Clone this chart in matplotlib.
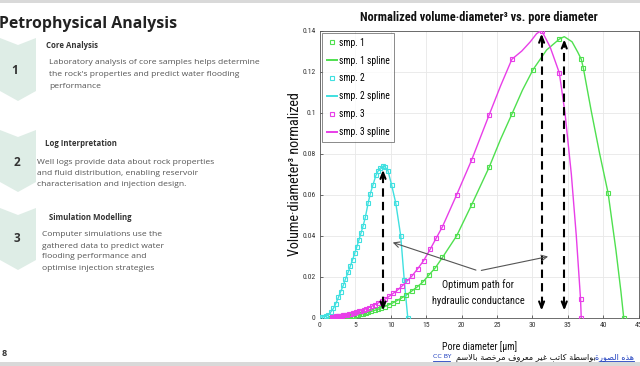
import matplotlib
matplotlib.use("Agg")
import matplotlib.pyplot as plt
from matplotlib import font_manager
from matplotlib.patches import Polygon
from matplotlib.lines import Line2D
import numpy as np

# ---------------- data ----------------
x_ticks = [0, 5, 10, 15, 20, 25, 30, 35, 40, 45]
y_ticks = [0, 0.02, 0.04, 0.06, 0.08, 0.1, 0.12, 0.14]
y_tick_labels = ["0", "0.02", "0.04", "0.06", "0.08", "0.1", "0.12", "0.14"]

# sample 1 (green) measured points
smp1_x = [1.5, 1.6, 1.7, 1.8, 1.9, 2.0, 2.15, 2.25, 2.4, 2.55, 2.7, 2.85, 3.0, 3.2, 3.4, 3.6,
          3.8, 4.05, 4.3, 4.55, 4.8, 5.1, 5.4, 5.75, 6.1, 6.45, 6.85, 7.25, 7.7, 8.15, 8.6,
          9.15, 9.7, 10.25, 10.9, 11.55, 12.2, 12.95, 13.75, 14.55, 15.4, 16.3, 17.3, 19.3,
          21.4, 23.9, 27.1, 30.1, 33.8, 36.9, 37.2, 40.7, 42.9]
smp1_y = [0.0000, 0.0001, 0.0001, 0.0001, 0.0002, 0.0002, 0.0002, 0.0003, 0.0003, 0.0003,
          0.0004, 0.0004, 0.0005, 0.0005, 0.0006, 0.0007, 0.0008, 0.0009, 0.0010, 0.0011,
          0.0012, 0.0014, 0.0016, 0.0018, 0.0021, 0.0024, 0.0028, 0.0032, 0.0037, 0.0042,
          0.0048, 0.0056, 0.0064, 0.0073, 0.0085, 0.0098, 0.0112, 0.0131, 0.0152, 0.0176,
          0.0210, 0.0245, 0.0295, 0.0400, 0.0550, 0.0735, 0.0993, 0.1210, 0.1358, 0.1260,
          0.1216, 0.0607, 0.0000]
smp1_curve_x = [25.5, 28.6, 32.0, 34.5, 35.6, 36.4, 38.3, 39.5, 41.8, 42.5]
smp1_curve_y = [0.0870, 0.1110, 0.1305, 0.1370, 0.1345, 0.1295, 0.1010, 0.0800, 0.0330, 0.0130]

# sample 2 (cyan) measured points
smp2_x = [0.0, 0.3, 0.6, 0.9, 1.2, 1.5, 1.9, 2.2, 2.6, 2.9, 3.3, 3.6, 4.0, 4.3, 4.6, 4.9,
          5.2, 5.5, 5.8, 6.1, 6.4, 6.8, 7.1, 7.5, 7.9, 8.2, 8.5, 8.9, 9.2, 9.6, 10.1, 10.7,
          11.4, 11.9, 12.4]
smp2_y = [0.0005, 0.0005, 0.0006, 0.0009, 0.0015, 0.0028, 0.0047, 0.0068, 0.0100, 0.0127,
          0.0160, 0.0190, 0.0225, 0.0255, 0.0283, 0.0315, 0.0347, 0.0380, 0.0415, 0.0450,
          0.0490, 0.0560, 0.0605, 0.0650, 0.0695, 0.0715, 0.0730, 0.0740, 0.0735, 0.0717,
          0.0650, 0.0560, 0.0400, 0.0185, 0.0000]
smp2_curve_x = [12.15]
smp2_curve_y = [0.0090]

# sample 3 (magenta) measured points
smp3_x = [1.65, 1.75, 1.85, 1.95, 2.05, 2.2, 2.3, 2.45, 2.6, 2.75, 2.9, 3.05, 3.25, 3.45,
          3.65, 3.85, 4.1, 4.35, 4.6, 4.85, 5.15, 5.45, 5.8, 6.15, 6.5, 6.9, 7.3, 7.75, 8.2,
          8.7, 9.2, 9.75, 10.35, 10.95, 11.6, 12.3, 13.0, 13.8, 14.65, 15.6, 16.4, 17.3,
          19.3, 21.4, 23.9, 27.1, 31.3, 33.8, 36.8, 36.9]
smp3_y = [0.0005, 0.0005, 0.0006, 0.0006, 0.0007, 0.0007, 0.0008, 0.0009, 0.0009, 0.0010,
          0.0011, 0.0012, 0.0013, 0.0014, 0.0016, 0.0017, 0.0019, 0.0021, 0.0023, 0.0026,
          0.0029, 0.0032, 0.0036, 0.0040, 0.0045, 0.0051, 0.0057, 0.0065, 0.0073, 0.0082,
          0.0092, 0.0105, 0.0120, 0.0136, 0.0156, 0.0180, 0.0205, 0.0240, 0.0280, 0.0337,
          0.0388, 0.0445, 0.0600, 0.0768, 0.0990, 0.1260, 0.1400, 0.1194, 0.0092, 0.0000]
smp3_curve_x = [25.5, 28.5, 29.7, 30.6, 32.5, 34.6, 35.5, 36.2]
smp3_curve_y = [0.1130, 0.1300, 0.1345, 0.1385, 0.1320, 0.1000, 0.0700, 0.0400]

# optimum-path arrows: x position, bottom, top
opt_x = [8.9, 31.3, 34.5]
opt_bottom = [0.0023, 0.0023, 0.0023]
opt_top = [0.0735, 0.1398, 0.1370]

legend_labels = ["smp. 1", "smp. 1 spline", "smp. 2", "smp. 2 spline", "smp. 3", "smp. 3 spline"]
colors = ["#4fe04f", "#40e0e0", "#e83ee8"]

# ---------------- fonts ----------------
_avail = {f.name for f in font_manager.fontManager.ttflist}
_narrow_cands = ["Arial Narrow", "Liberation Sans Narrow", "Roboto Condensed", "PT Sans Narrow",
                 "Archivo Narrow", "Fira Sans Condensed", "IBM Plex Sans Condensed",
                 "Encode Sans Condensed", "Asap Condensed", "Barlow Semi Condensed", "Roboto"]
narrow = next((c for c in _narrow_cands if c in _avail), "DejaVu Sans")
chart_font = [narrow, "DejaVu Sans"]
sans = ["Open Sans", "DejaVu Sans"]
ar_font = ["DejaVu Sans"]

# ---------------- simple Arabic shaping (presentation forms, visual order) ----------------
FORMS = {
    'ا': (0xFE8D, 0xFE8E, None, None), 'ب': (0xFE8F, 0xFE90, 0xFE91, 0xFE92),
    'ة': (0xFE93, 0xFE94, None, None), 'ت': (0xFE95, 0xFE96, 0xFE97, 0xFE98),
    'خ': (0xFEA5, 0xFEA6, 0xFEA7, 0xFEA8), 'ذ': (0xFEAB, 0xFEAC, None, None),
    'ر': (0xFEAD, 0xFEAE, None, None), 'س': (0xFEB1, 0xFEB2, 0xFEB3, 0xFEB4),
    'ص': (0xFEB9, 0xFEBA, 0xFEBB, 0xFEBC), 'ط': (0xFEC1, 0xFEC2, 0xFEC3, 0xFEC4),
    'ع': (0xFEC9, 0xFECA, 0xFECB, 0xFECC), 'غ': (0xFECD, 0xFECE, 0xFECF, 0xFED0),
    'ف': (0xFED1, 0xFED2, 0xFED3, 0xFED4), 'ك': (0xFED9, 0xFEDA, 0xFEDB, 0xFEDC),
    'ل': (0xFEDD, 0xFEDE, 0xFEDF, 0xFEE0), 'م': (0xFEE1, 0xFEE2, 0xFEE3, 0xFEE4),
    'ه': (0xFEE9, 0xFEEA, 0xFEEB, 0xFEEC), 'و': (0xFEED, 0xFEEE, None, None),
    'ي': (0xFEF1, 0xFEF2, 0xFEF3, 0xFEF4),
}


def shape_arabic(s):
    out = []
    chars = list(s)
    i = 0
    while i < len(chars):
        c = chars[i]
        if c not in FORMS:
            out.append(c)
            i += 1
            continue
        prev = chars[i - 1] if i > 0 else None
        prev_j = prev in FORMS and FORMS[prev][2] is not None
        if c == 'ل' and i + 1 < len(chars) and chars[i + 1] == 'ا':
            out.append(chr(0xFEFC if prev_j else 0xFEFB))
            i += 2
            continue
        nxt = chars[i + 1] if i + 1 < len(chars) else None
        next_j = FORMS[c][2] is not None and nxt in FORMS
        iso, fin, ini, med = FORMS[c]
        if prev_j and next_j:
            out.append(chr(med))
        elif prev_j:
            out.append(chr(fin))
        elif next_j:
            out.append(chr(ini))
        else:
            out.append(chr(iso))
        i += 1
    return "".join(out)[::-1]


# ---------------- figure ----------------
fig = plt.figure(figsize=(6.4, 3.66), dpi=100)
bg = fig.add_axes([0, 0, 1, 1])
bg.set_xlim(0, 640)
bg.set_ylim(366, 0)
bg.axis("off")

# slide frame lines
bg.add_patch(plt.Rectangle((0, 0), 640, 3, color="#d9d9d9", lw=0))
bg.add_patch(plt.Rectangle((0, 362), 640, 4, color="#d9d9d9", lw=0))

chev_col = "#deede6"
for top, bot in [(38, 101), (130, 192), (208, 270)]:
    pts = [(0, top), (18, top + 7), (36, top), (36, bot - 10), (18, bot), (0, bot - 10)]
    bg.add_patch(Polygon(pts, closed=True, color=chev_col, lw=0))

bg.text(-1, 24, "Petrophysical Analysis", fontsize=11.4, fontweight="bold", color="#222222",
        family=sans, va="center", ha="left")
for num, (nx, ny) in zip(["1", "2", "3"], [(15, 71), (17, 162), (17, 238)]):
    bg.text(nx, ny, num, fontsize=8.5, fontweight="bold", color="#333333", family=sans,
            ha="center", va="center")

head_kw = dict(fontsize=5.6, fontweight="bold", color="#333333", family=sans, va="center", ha="left")
body_kw = dict(fontsize=6.1, color="#555555", family=sans, va="center", ha="left")
bg.text(46, 45, "Core Analysis", **head_kw)
for k, line in enumerate(["Laboratory analysis of core samples helps determine",
                          "the rock's properties and predict water flooding", "performance"]):
    bg.text(49, 62 + 12 * k, line, **body_kw)
bg.text(45, 143, "Log Interpretation", **head_kw)
for k, line in enumerate(["Well logs provide data about rock properties",
                          "and fluid distribution, enabling reservoir",
                          "characterisation and injection design."]):
    bg.text(37, 162 + 11.5 * k, line, **body_kw)
bg.text(49, 218, "Simulation Modelling", **head_kw)
for k, line in enumerate(["Computer simulations use the", "gathered data to predict water",
                          "flooding performance and", "optimise injection strategies"]):
    bg.text(42, 235 + 11 * k, line, **body_kw)
bg.text(2, 354, "8", fontsize=6.5, fontweight="bold", color="#333333", family=sans, va="center")

# attribution line
bg.text(433, 357, "CC BY", fontsize=4.5, color="#1f3fbf", family=ar_font, va="center", ha="left")
bg.plot([433, 450], [361, 361], color="#1f3fbf", lw=0.6)
bg.text(596, 357, shape_arabic("بواسطة كاتب غير معروف مرخصة بالاسم"), fontsize=5.9,
        color="#111111", family=ar_font, va="center", ha="right")
bg.text(634, 357, shape_arabic("هذه الصورة"), fontsize=5.8, color="#1f3fbf",
        family=ar_font, va="center", ha="right")
bg.plot([600, 634], [361, 361], color="#1f3fbf", lw=0.6)

# ---------------- chart ----------------
ax = fig.add_axes([320 / 640, 1 - 318 / 366, (638.6 - 320) / 640, (318 - 30.5) / 366])

series = [
    (smp1_x, smp1_y, smp1_curve_x, smp1_curve_y),
    (smp2_x, smp2_y, smp2_curve_x, smp2_curve_y),
    (smp3_x, smp3_y, smp3_curve_x, smp3_curve_y),
]
handles = []
for (mx, my, cx, cy), col in zip(series, colors):
    lx = np.concatenate([mx, cx])
    ly = np.concatenate([my, cy])
    order = np.argsort(lx, kind="stable")
    ax.plot(lx[order], ly[order], color=col, lw=1.0, zorder=3)
    ax.plot(mx, my, ls="none", marker="s", ms=2.4, mfc="none", mec=col, mew=0.8, zorder=4)
    handles.append(Line2D([], [], ls="none", marker="s", ms=2.4, mfc="none", mec=col, mew=0.8))
    handles.append(Line2D([], [], color=col, lw=1.4))

# optimum path arrows
for xo, yb, yt in zip(opt_x, opt_bottom, opt_top):
    ax.plot([xo, xo], [yb + 0.004, yt - 0.004], color="black", lw=1.5, ls=(0, (4, 2.5)), zorder=5)
    ax.annotate("", xy=(xo, yt), xytext=(xo, yt - 0.006),
                arrowprops=dict(arrowstyle="->,head_length=0.45,head_width=0.18", color="black", lw=1.5),
                zorder=6)
    ax.annotate("", xy=(xo, yb), xytext=(xo, yb + 0.006),
                arrowprops=dict(arrowstyle="->,head_length=0.45,head_width=0.18", color="black", lw=1.5),
                zorder=6)

ax.text(22.3, 0.0123, "Optimum path for\nhydraulic conductance", fontsize=7.5, family=chart_font,
        ha="center", va="center", linespacing=1.8, color="#111111", zorder=7)
for tx, ty in [(9.9, 0.0372), (32.6, 0.0302)]:
    ax.annotate("", xy=(tx, ty), xytext=(22.4, 0.0229),
                arrowprops=dict(arrowstyle="->,head_length=0.4,head_width=0.2", color="#555555", lw=0.8),
                zorder=6)

ax.set_xlim(0, 45)
ax.set_ylim(0, 0.14)
ax.set_xticks(x_ticks)
ax.set_yticks(y_ticks)
ax.set_yticklabels(y_tick_labels)
ax.tick_params(axis="both", direction="in", length=2.5, width=0.5, labelsize=5.5, colors="#333333",
               pad=3)
for lab in ax.get_xticklabels() + ax.get_yticklabels():
    lab.set_family(chart_font)
ax.grid(True, color="#e8e8e8", lw=0.6)
ax.set_axisbelow(True)
for sp in ax.spines.values():
    sp.set_color("#555555")
    sp.set_linewidth(0.6)

ax.set_title("Normalized volume·diameter³ vs. pore diameter", fontsize=8.9, fontweight="bold",
             family=chart_font, color="#111111", pad=7)
ax.set_xlabel("Pore diameter [µm]", fontsize=7.2, family=chart_font, color="#111111", labelpad=9)
ax.set_ylabel("Volume·diameter³ normalized", fontsize=10.2, family=chart_font, color="#111111",
              labelpad=0.5)

leg = ax.legend(handles, legend_labels, loc="upper left", frameon=True, fancybox=False,
                borderaxespad=0.25, handlelength=1.0, handletextpad=0.2, labelspacing=0.82,
                borderpad=0.5, prop={"family": chart_font, "size": 6.9})
leg.get_frame().set_edgecolor("#555555")
leg.get_frame().set_linewidth(0.6)

fig.savefig("out.png", dpi=100)
